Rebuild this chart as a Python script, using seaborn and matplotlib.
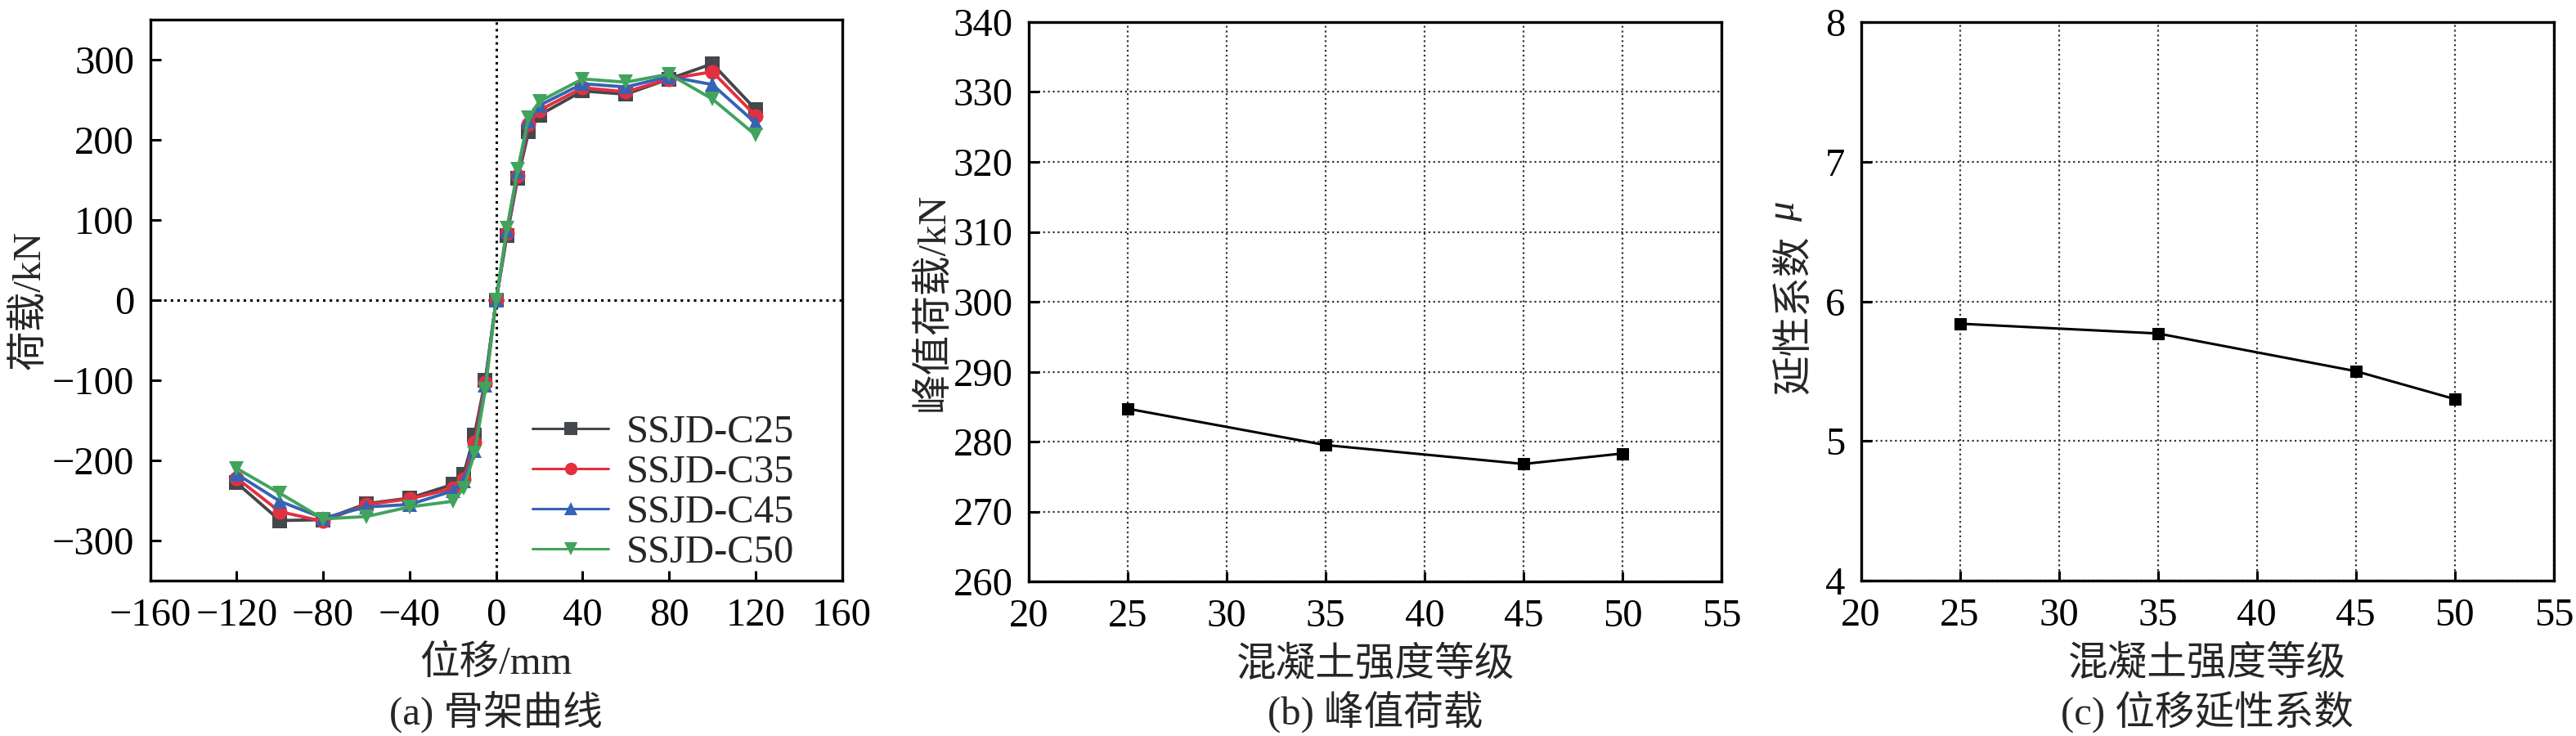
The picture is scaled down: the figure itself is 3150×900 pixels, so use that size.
import matplotlib
matplotlib.use('Agg')
import pandas as pd
import seaborn as sns
import matplotlib.pyplot as plt

# ---- data -------------------------------------------------------------
disp = [-120, -100, -80, -60, -40, -20, -15, -10, -5, 0, 5, 10, 15, 20, 40, 60, 80, 100, 120]
load_c25 = [-228, -275, -274, -254, -247, -230, -217, -168, -100, 0, 81, 152, 210, 231, 261, 257, 276, 295, 238]
load_c35 = [-222, -264, -276, -255, -248, -235, -223, -178, -103, 0, 84, 155, 219, 237, 265, 260, 276, 285, 230]
load_c45 = [-217, -251, -272, -258, -255, -238, -226, -188, -106, 0, 87, 160, 223, 243, 270, 266, 279, 269, 221]
load_c50 = [-210, -241, -273, -270, -258, -251, -235, -191, -111, 0, 90, 163, 228, 248, 276, 272, 282, 251, 206]
specimens = ['SSJD-C25', 'SSJD-C35', 'SSJD-C45', 'SSJD-C50']

grade = [25, 35, 45, 50]
peak_load = [284.7, 279.5, 276.8, 278.3]
ductility = [5.84, 5.77, 5.50, 5.30]

colors = ['#44474c', '#e2303f', '#3563b5', '#42a35c']
markers = ['s', 'o', '^', 'v']

# ---- style ------------------------------------------------------------
sns.set_style('ticks')
plt.rcParams['font.family'] = ['Liberation Serif', 'Noto Sans CJK SC']
plt.rcParams['axes.unicode_minus'] = True
FS = 35


def style_axes(ax):
	for sp in ax.spines.values():
		sp.set_linewidth(2.4)
		sp.set_color('black')
	ax.tick_params(direction='in', length=9, width=2.2, labelsize=FS,
		colors='black', top=False, right=False)
	ax.tick_params(axis='x', pad=15)
	ax.tick_params(axis='y', pad=14)


fig = plt.figure(figsize=(31.5, 9), dpi=100)
ax_a = fig.add_axes([0.0583, 0.2111, 0.2686, 0.7622])
ax_b = fig.add_axes([0.3994, 0.2100, 0.2689, 0.7600])
ax_c = fig.add_axes([0.7224, 0.2111, 0.2690, 0.7589])

# ---- (a) skeleton curves ---------------------------------------------
frames = []
for name, vals in zip(specimens, [load_c25, load_c35, load_c45, load_c50]):
	frames.append(pd.DataFrame({'disp': disp, 'load': vals, 'specimen': name}))
df_a = pd.concat(frames, ignore_index=True)

ax_a.axhline(0, color='black', linestyle=':', linewidth=2.2, zorder=1)
ax_a.axvline(0, color='black', linestyle=':', linewidth=2.2, zorder=1)
sns.lineplot(data=df_a, x='disp', y='load', hue='specimen', style='specimen',
	markers=markers, dashes=False, palette=colors, linewidth=2.8,
	markersize=13, markeredgewidth=0, ax=ax_a, zorder=3)
ax_a.set_xlim(-160, 160)
ax_a.set_ylim(-350, 350)
ax_a.set_xticks(range(-160, 161, 40))
ax_a.set_yticks(range(-300, 301, 100))
style_axes(ax_a)
ax_a.set_xlabel('位移/mm', fontsize=FS)
ax_a.set_ylabel('荷载/kN', fontsize=FS)
ax_a.yaxis.set_label_coords(-0.148, 0.5)
ax_a.xaxis.set_label_coords(0.5, -0.115)
h, l = ax_a.get_legend_handles_labels()
for hd in h:
	hd.set_markersize(11)
	hd.set_linewidth(2.2)
ax_a.legend(h, l, loc='lower right', bbox_to_anchor=(0.965, -0.025), frameon=False,
	fontsize=FS, labelspacing=0.1, handlelength=1.9, handletextpad=0.45,
	borderaxespad=0.2)

# ---- (b) peak load ----------------------------------------------------
sns.lineplot(x=grade, y=peak_load, marker='s', color='black', linewidth=2.2,
	markersize=10.5, markeredgecolor='black', ax=ax_b, zorder=3)
ax_b.set_xlim(20, 55)
ax_b.set_ylim(260, 340)
ax_b.set_xticks(range(20, 56, 5))
ax_b.set_yticks(range(260, 341, 10))
ax_b.grid(True, linestyle=':', color='#333333', linewidth=1.6)
style_axes(ax_b)
ax_b.set_xlabel('混凝土强度等级', fontsize=FS)
ax_b.set_ylabel('峰值荷载/kN', fontsize=FS)
ax_b.yaxis.set_label_coords(-0.112, 0.5)
ax_b.xaxis.set_label_coords(0.5, -0.115)

# ---- (c) ductility ----------------------------------------------------
sns.lineplot(x=grade, y=ductility, marker='s', color='black', linewidth=2.2,
	markersize=10.5, markeredgecolor='black', ax=ax_c, zorder=3)
ax_c.set_xlim(20, 55)
ax_c.set_ylim(4, 8)
ax_c.set_xticks(range(20, 56, 5))
ax_c.set_yticks(range(4, 9, 1))
ax_c.grid(True, linestyle=':', color='#333333', linewidth=1.6)
style_axes(ax_c)
ax_c.set_xlabel('混凝土强度等级', fontsize=FS)
ax_c.set_ylabel('延性系数', fontsize=FS)
ax_c.yaxis.set_label_coords(-0.069, 0.476)
# italic mu after the CJK label
ax_c.text(-0.084, 0.66, 'μ', transform=ax_c.transAxes, rotation=90,
	rotation_mode='anchor', ha='center', va='bottom', fontsize=FS,
	style='italic', family='Liberation Serif')
ax_c.xaxis.set_label_coords(0.5, -0.115)

# ---- captions ---------------------------------------------------------
fig.text(0.1925, 0.033, '(a) 骨架曲线', fontsize=FS, ha='center', va='center')
fig.text(0.5338, 0.033, '(b) 峰值荷载', fontsize=FS, ha='center', va='center')
fig.text(0.8569, 0.033, '(c) 位移延性系数', fontsize=FS, ha='center', va='center')

fig.savefig('out.png', dpi=100)
